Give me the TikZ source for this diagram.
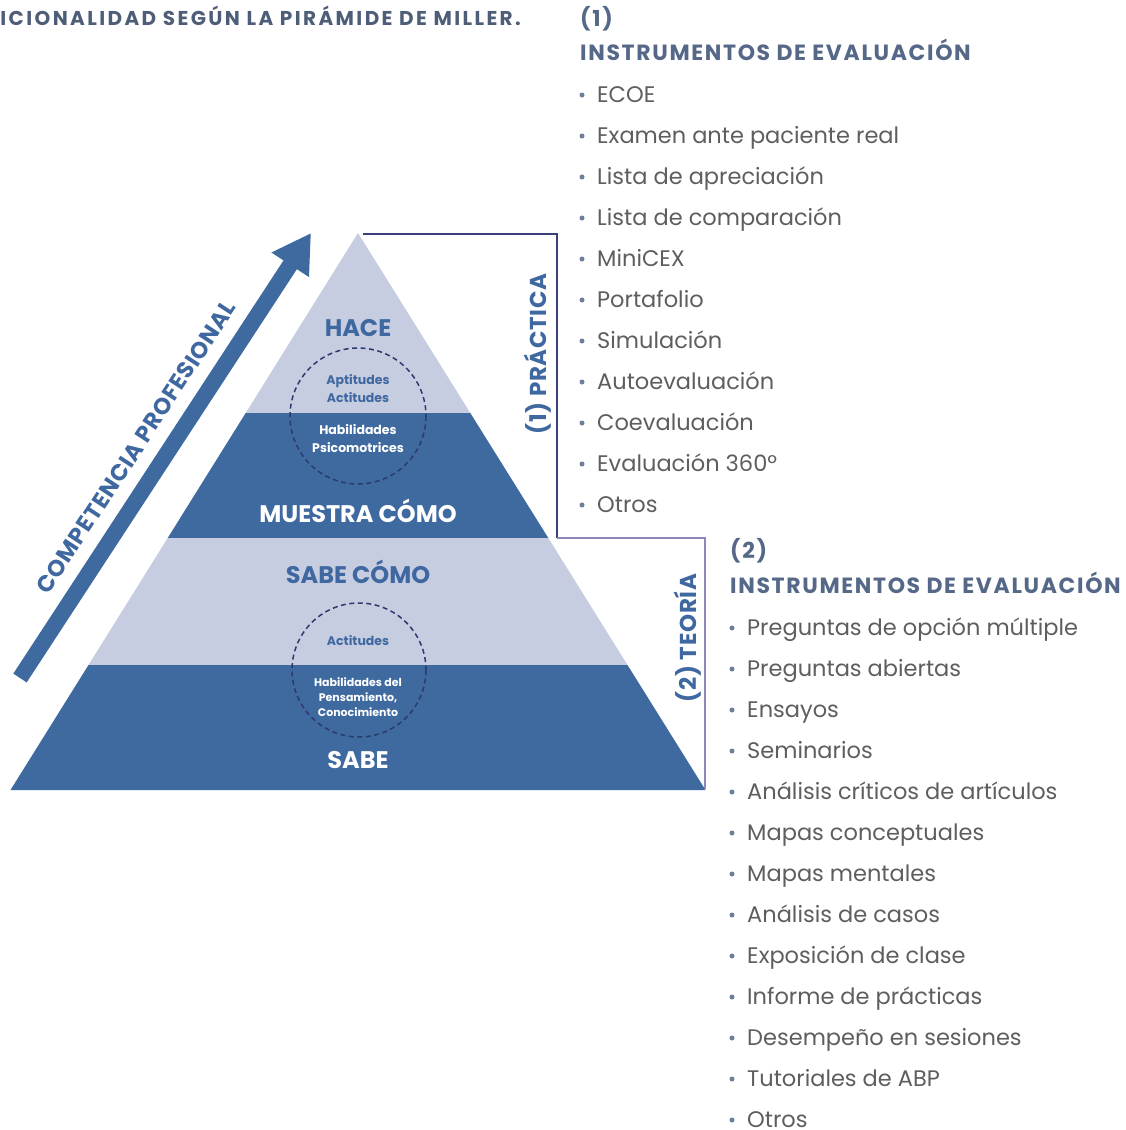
\documentclass[tikz,border=0pt]{standalone}
\usepackage{fontspec}
\setmainfont{Poppins}
\usetikzlibrary{arrows.meta,calc}
\definecolor{lightband}{HTML}{C6CDE1}
\definecolor{darkband}{HTML}{3E6AA0}
\definecolor{pyrtext}{HTML}{3F68A0}
\definecolor{navyline}{HTML}{3B3F7B}
\definecolor{ringcol}{HTML}{2C3B6C}
\definecolor{lavline}{HTML}{8C86BA}
\definecolor{headcol}{HTML}{556888}
\definecolor{itemcol}{HTML}{5E5E5E}
\definecolor{titlecol}{HTML}{4E5D78}
\tikzset{
  lvl/.style={font=\fontsize{24}{28}\selectfont\bfseries, inner sep=0pt},
  lvllight/.style={lvl, text=pyrtext},
  lvldark/.style={lvl, text=white},
  small/.style={font=\fontsize{12.5}{18}\selectfont\bfseries, inner sep=0pt, align=center},
  smalllight/.style={small, text=pyrtext},
  smalldark/.style={small, text=white},
  ring/.style={draw=ringcol, line width=1.5pt, dash pattern=on 5pt off 3.5pt},
  sidelbl/.style={font=\fontsize{23}{26}\selectfont\bfseries\addfontfeatures{LetterSpace=3}, text=pyrtext, rotate=90, inner sep=0pt},
  head/.style={font=\fontsize{22}{26}\selectfont\bfseries\addfontfeatures{LetterSpace=7.5}, text=headcol, anchor=base west, inner sep=0pt},
  item/.style={font=\fontsize{22.5}{26}\selectfont, text=itemcol, anchor=base west, inner sep=0pt},
  dot/.style={circle, fill=headcol!85, inner sep=0pt, minimum size=5pt},
}
\newcommand{\listitem}[4]{% name, x, y, text
  \node[dot] (#1b) at (#2,#3+1) {};
  \node[item] (#1) at (#2+15,#3+8) {#4};
}
\begin{document}
\begin{tikzpicture}[x=1pt,y=-1pt]
\useasboundingbox (0,0) rectangle (1125,1130);
\fill[white] (0,0) rectangle (1125,1130);

% title
\node[font=\fontsize{20}{24}\selectfont\bfseries\addfontfeatures{LetterSpace=12}, text=titlecol, anchor=base east, inner sep=0pt] (title) at (521,25) {ICIONALIDAD SEGÚN LA PIRÁMIDE DE MILLER.};

% pyramid bands
\fill[lightband] (358,233) -- (470.3,413) -- (245.7,413) -- cycle;
\fill[darkband] (245.7,413) -- (470.3,413) -- (548.3,538) -- (167.7,538) -- cycle;
\fill[lightband] (167.7,538) -- (548.3,538) -- (627.5,665) -- (88.5,665) -- cycle;
\fill[darkband] (88.5,665) -- (627.5,665) -- (705.5,790) -- (10.5,790) -- cycle;

% dashed rings
\draw[ring] (358,416) circle (68);
\draw[ring] (359,670) circle (67);

% level labels
\node[lvllight] (hace) at (358,328) {HACE};
\node[smalllight] (apt) at (358,389) {Aptitudes\\Actitudes};
\node[smalldark] (hab) at (358,439) {Habilidades\\Psicomotrices};
\node[lvldark] (muestra) at (358,511) {MUESTRA CÓMO};
\node[lvllight] (sabecomo) at (358,572) {SABE CÓMO};
\node[smalllight] (act) at (358,641) {Actitudes};
\node[smalldark, font=\fontsize{11}{15}\selectfont\bfseries] (hpc) at (358,697) {Habilidades del\\Pensamiento,\\Conocimiento};
\node[lvldark] (sabe) at (358,760) {SABE};

% brackets
\coordinate (b1) at (363,234);
\coordinate (b2) at (557,234);
\coordinate (b3) at (557,538);
\coordinate (b4) at (705,538);
\coordinate (b5) at (705,789);
\draw[navyline, line width=2pt] (b1) -- (b2) -- (b3);
\draw[lavline, line width=2pt] (b3) -- (b4) -- (b5);
\node[sidelbl] (prac) at (538,354) {(1) PRÁCTICA};
\node[sidelbl] (teor) at (688,638) {(2) TEORÍA};

% competence arrow
\coordinate (arrS) at (20,678);
\coordinate (arrE) at (311,233);
\draw[darkband, line width=16pt, -{Triangle[width=42pt,length=38pt]}] (arrS) -- (arrE);
\node[font=\fontsize{23}{26}\selectfont\bfseries\addfontfeatures{LetterSpace=3}, text=pyrtext, rotate=56.8, inner sep=0pt] (comp) at (136,447) {COMPETENCIA PROFESIONAL};

% list 1
\node[head] (n1) at (580,26) {(1)};
\node[head] (h1) at (580,60) {INSTRUMENTOS DE EVALUACIÓN};
\listitem{a1}{582}{94}{ECOE}
\listitem{a2}{582}{135}{Examen ante paciente real}
\listitem{a3}{582}{176}{Lista de apreciación}
\listitem{a4}{582}{217}{Lista de comparación}
\listitem{a5}{582}{258}{MiniCEX}
\listitem{a6}{582}{299}{Portafolio}
\listitem{a7}{582}{340}{Simulación}
\listitem{a8}{582}{381}{Autoevaluación}
\listitem{a9}{582}{422}{Coevaluación}
\listitem{a10}{582}{463}{Evaluación 360º}
\listitem{a11}{582}{504}{Otros}

% list 2
\node[head] (n2) at (730,558) {(2)};
\node[head] (h2) at (730,593) {INSTRUMENTOS DE EVALUACIÓN};
\listitem{c1}{732}{627}{Preguntas de opción múltiple}
\listitem{c2}{732}{668}{Preguntas abiertas}
\listitem{c3}{732}{709}{Ensayos}
\listitem{c4}{732}{750}{Seminarios}
\listitem{c5}{732}{791}{Análisis críticos de artículos}
\listitem{c6}{732}{832}{Mapas conceptuales}
\listitem{c7}{732}{873}{Mapas mentales}
\listitem{c8}{732}{914}{Análisis de casos}
\listitem{c9}{732}{955}{Exposición de clase}
\listitem{c10}{732}{996}{Informe de prácticas}
\listitem{c11}{732}{1037}{Desempeño en sesiones}
\listitem{c12}{732}{1078}{Tutoriales de ABP}
\listitem{c13}{732}{1119}{Otros}
\end{tikzpicture}
\end{document}
